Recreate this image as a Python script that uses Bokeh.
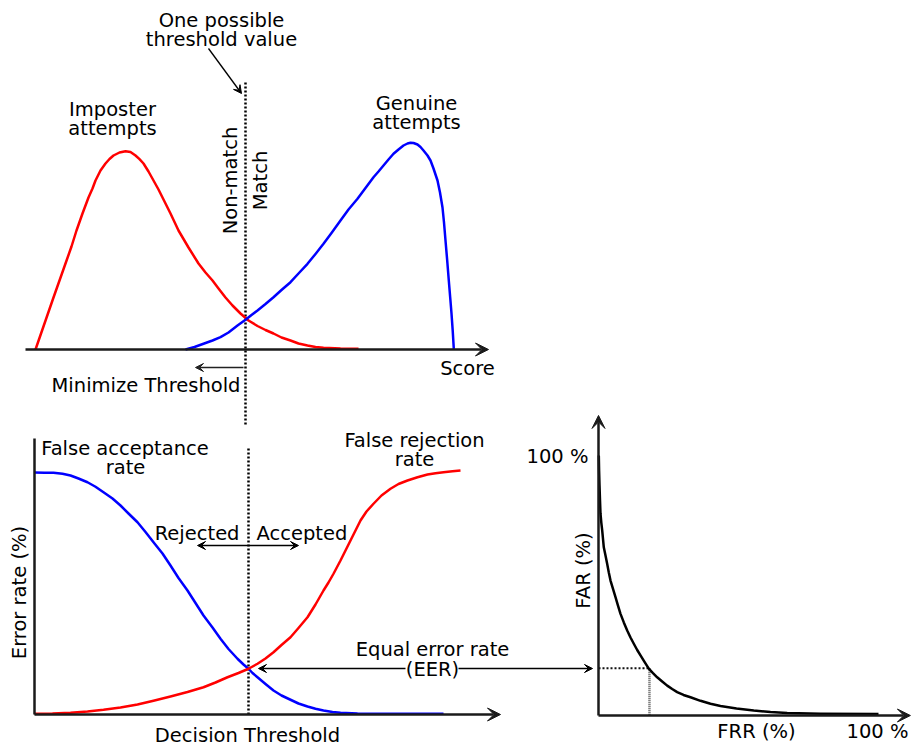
import math
from bokeh.plotting import figure
from bokeh.models import Range1d, Label, Arrow, VeeHead
from bokeh.embed import file_html
from bokeh.resources import INLINE

# ------------------------------------------------------------------ data
# Top panel: score distributions (score units, relative density)
imposter_score = [2.0, 3.8, 5.6, 6.8, 8.0, 9.2, 10.2, 11.4, 12.6, 13.4, 14.0, 15.0, 16.0, 16.8,
                  17.6, 18.8, 20.0, 21.0, 22.0, 22.8, 23.6, 24.6, 25.6, 26.6, 27.4, 29.0,
                  30.6, 32.6, 34.6, 36.0, 37.4, 38.6, 40.0, 41.4, 43.0, 44.6, 46.4, 48.0,
                  49.6, 51.2, 53.0, 54.6, 56.4, 58.0, 59.6, 63.0, 66.6]
imposter_density = [0.0, 13.0, 26.0, 34.5, 43.0, 51.5, 59.5, 68.0, 76.0, 80.5, 84.5, 89.5, 93.0,
                    95.25, 97.0, 98.5, 99.15, 98.75, 97.0, 95.2, 93.0, 89.0, 84.5, 80.0, 76.0,
                    68.0, 59.5, 51.0, 43.0, 38.5, 34.5, 30.5, 26.0, 22.0, 18.0, 14.5, 11.75,
                    9.75, 8.0, 6.0, 4.5, 3.0, 2.0, 1.25, 0.85, 0.5, 0.35]
genuine_score = [32.0, 33.8, 35.6, 37.4, 39.0, 40.6, 42.4, 44.0, 45.2, 46.4, 48.0, 49.6, 51.2,
                 53.0, 54.6, 56.4, 58.0, 59.6, 61.2, 63.0, 64.6, 66.4, 68.0, 69.6, 70.6, 71.6,
                 72.6, 73.6, 74.6, 75.6, 76.4, 77.0, 77.6, 78.4, 79.0, 79.6, 80.4, 81.0, 81.6,
                 82.4, 82.9, 83.4, 83.7, 84.0, 84.34, 84.66, 84.94, 85.2, 85.44, 85.66]
genuine_density = [0.0, 1.25, 2.85, 4.5, 6.15, 8.5, 12.0, 14.85, 17.25, 19.5, 22.75, 26.15,
                   29.75, 33.65, 38.0, 42.85, 47.75, 52.85, 58.25, 64.5, 70.0, 75.35, 80.75,
                   86.15, 89.0, 92.0, 95.0, 97.85, 100.0, 102.0, 103.0, 103.35, 103.25, 102.5,
                   101.25, 99.5, 97.0, 94.5, 90.5, 84.5, 78.5, 71.0, 63.5, 54.5, 44.5, 34.5,
                   26.0, 18.0, 9.5, 0.35]
threshold_score = 44.0

# Bottom-left panel: error rate (%) vs decision threshold
far_threshold = [0.0, 2.5, 4.75, 7.0, 9.0, 11.0, 13.25, 15.25, 17.25, 19.5, 21.5, 23.5, 25.75,
                 27.75, 29.75, 32.0, 34.0, 36.0, 38.25, 40.25, 42.25, 44.5, 46.5, 48.5, 50.75,
                 52.25, 53.5, 54.5, 55.75, 57.75, 59.75, 61.75, 64.0, 66.0, 68.25, 70.25,
                 72.25, 74.5, 76.5, 80.75, 84.75, 102.25]
far_rate = [96.8, 96.7, 96.7, 96.3, 95.6, 94.4, 92.9, 91.1, 88.9, 86.4, 83.6, 80.4, 76.9,
            73.0, 68.9, 64.4, 59.6, 54.6, 49.6, 44.6, 39.6, 34.8, 30.3, 26.2, 22.3,
            20.0, 18.3, 16.6, 14.9, 12.2, 9.6, 7.6, 5.9, 4.4, 3.2, 2.3,
            1.6, 1.0, 0.7, 0.4, 0.3, 0.3]
frr_threshold = [0.0, 4.5, 9.0, 13.25, 17.25, 21.5, 25.75, 29.75, 34.0, 38.25, 42.25, 45.25,
                 48.25, 51.0, 53.5, 55.75, 57.75, 59.75, 61.75, 64.0, 66.0, 68.25, 70.25,
                 72.25, 73.5, 74.75, 76.5, 77.75, 79.0, 80.25, 81.5, 83.0, 84.75, 86.75,
                 89.0, 91.0, 93.25, 95.75, 98.25, 100.25, 102.25, 104.5, 106.5]
frr_rate = [0.3, 0.4, 0.7, 1.2, 1.9, 2.8, 4.0, 5.5, 7.2, 9.0, 10.9, 12.8,
            14.9, 16.6, 18.3, 20.3, 22.4, 24.9, 27.8, 30.9, 34.6, 38.9, 44.0,
            49.6, 52.8, 56.3, 61.6, 65.6, 69.6, 73.6, 77.6, 81.2, 84.3, 87.6,
            90.3, 92.2, 93.6, 94.9, 96.0, 96.5, 96.9, 97.3, 97.6]
eer_threshold = 53.5
eer_rate = 18.2

# Right panel: FAR (%) vs FRR (%)
roc_frr = [0.11, 0.21, 0.36, 0.54, 0.71, 1.0, 1.32, 1.89, 2.5, 3.11, 3.68, 4.29, 5.18, 6.07,
           6.96, 7.86, 9.04, 10.25, 11.43, 12.61, 13.82, 15.0, 16.43, 17.96, 19.46, 20.96,
           22.75, 24.54, 26.32, 28.1, 30.36, 32.86, 36.43, 40.0, 43.57, 49.29, 55.46,
           61.43, 67.39, 79.29, 100.0]
roc_far = [100.0, 94.2, 88.5, 82.7, 77.7, 74.2, 71.2, 64.7, 61.5, 58.3, 55.0, 51.9, 48.7, 45.5,
           42.3, 39.1, 35.8, 32.7, 30.0, 27.6, 25.2, 23.1, 20.6, 18.0, 16.3, 14.7,
           13.1, 11.5, 10.2, 9.0, 7.9, 7.0, 5.65, 4.5, 3.65, 2.7, 1.9,
           1.35, 0.96, 0.65, 0.55]

# ------------------------------------------------------------------ canvas
W, H = 911, 746
PX0, PY0 = 0, 0          # page offset of the canvas
p = figure(width=W, height=H,
           x_range=Range1d(PX0, PX0 + W), y_range=Range1d(PY0 + H, PY0),
           output_backend="svg", toolbar_location=None,
           x_axis_location=None, y_axis_location=None,
           min_border=0, outline_line_color=None,
           background_fill_color="white", border_fill_color="white")
p.grid.visible = False


def add_panel(name, ox, oy, sx, sy):
    """Panel data ranges: data (0,0) sits at page (ox, oy), sx/sy px per unit."""
    p.extra_x_ranges[name + "_x"] = Range1d((PX0 - ox) / sx, (PX0 + W - ox) / sx)
    p.extra_y_ranges[name + "_y"] = Range1d((oy - (PY0 + H)) / sy, (oy - PY0) / sy)
    return dict(x_range_name=name + "_x", y_range_name=name + "_y")


top = add_panel("top", 25, 349, 5.0, 2.0)
bl = add_panel("bl", 34, 714, 4.0, 2.5)
rt = add_panel("rt", 598, 715, 2.8, 2.6)

AX = "#1a1a1a"
RED = "#ff0000"
BLUE = "#0000ff"


def axis_arrow(rng, x0, y0, x1, y1, head=True):
    p.add_layout(Arrow(x_start=x0, y_start=y0, x_end=x1, y_end=y1,
                       end=VeeHead(size=13, fill_color=AX, line_color=AX, line_width=1) if head else None,
                       line_color=AX, line_width=2.5, **rng))


def small_arrow(x0, y0, x1, y1, both=False, color="black"):
    head = lambda: VeeHead(size=8, fill_color=color, line_color=color, line_width=1)
    p.add_layout(Arrow(x_start=x0, y_start=y0, x_end=x1, y_end=y1,
                       start=head() if both else None, end=head(),
                       line_color=color, line_width=1.3))


# ---- top panel
p.line([threshold_score, threshold_score], [133.5, -38], line_color="black",
       line_width=2.5, line_dash="2 2", **top)
p.line(imposter_score, imposter_density, line_color=RED, line_width=2.5, line_join="round", **top)
p.line(genuine_score, genuine_density, line_color=BLUE, line_width=2.5, line_join="round", **top)
axis_arrow(top, 0, 0, 92.6, 0)

# ---- bottom-left panel
p.line([eer_threshold, eer_threshold], [106.4, 0], line_color="black",
       line_width=2.5, line_dash="2 2", **bl)
p.line(far_threshold, far_rate, line_color=BLUE, line_width=2.5, line_join="round", **bl)
p.line(frr_threshold, frr_rate, line_color=RED, line_width=2.5, line_join="round", **bl)
axis_arrow(bl, 0, 0, 116.5, 0)
axis_arrow(bl, 0, 0, 0, 110.4, head=False)

# ---- right panel
p.line([0, eer_rate], [eer_rate, eer_rate], line_color="#111111", line_width=2, line_dash="2 2", **rt)
p.line([eer_rate, eer_rate], [eer_rate, 0], line_color="#555555", line_width=2.5, line_dash="1 1", **rt)
p.line(roc_frr, roc_far, line_color="black", line_width=2.5, line_join="round", **rt)
axis_arrow(rt, 0, 0, 111.4, 0)
axis_arrow(rt, 0, 0, 0, 115.4)

# ---- annotation arrows (page coordinates)
small_arrow(208, 48, 241, 93)                 # threshold pointer
small_arrow(243, 367, 195, 367, color="#222222")  # minimize threshold
small_arrow(197, 545, 298, 545, both=True)    # rejected / accepted
small_arrow(405, 668, 258, 668)               # EER -> left panel
small_arrow(458, 668, 592, 668)               # EER -> right panel

# ---- texts (page coordinates of the text baseline)
V = math.pi / 2
SHIFT = 7.5   # renderer draws the label ~7.5px past the requested baseline
texts = [
    ("One possible", 221, 27, "center", 0),
    ("threshold value", 221, 46, "center", 0),
    ("Imposter", 112, 116, "center", 0),
    ("attempts", 112, 135, "center", 0),
    ("Genuine", 416, 110.5, "center", 0),
    ("attempts", 416, 129.5, "center", 0),
    ("Non-match", 237, 180, "center", V),
    ("Match", 267, 180, "center", V),
    ("Score", 467, 375, "center", 0),
    ("Minimize Threshold", 240, 392, "right", 0),
    ("False acceptance", 124.5, 455, "center", 0),
    ("rate", 125, 474, "center", 0),
    ("False rejection", 414, 447, "center", 0),
    ("rate", 414, 466, "center", 0),
    ("Rejected", 239, 540, "right", 0),
    ("Accepted", 256, 540, "left", 0),
    ("Error rate (%)", 26, 592, "center", V),
    ("Equal error rate", 432, 656, "center", 0),
    ("(EER)", 432, 676.5, "center", 0),
    ("Decision Threshold", 247, 742, "center", 0),
    ("100 %", 588, 463, "right", 0),
    ("FAR (%)", 590, 570, "center", V),
    ("FRR (%)", 756, 738, "center", 0),
    ("100 %", 908, 738, "right", 0),
]
for t, x, y, align, ang in texts:
    if ang:
        x -= SHIFT
    else:
        y -= SHIFT
    p.add_layout(Label(x=x, y=y, text=t, text_align=align, text_baseline="alphabetic",
                       angle=ang, text_font="DejaVu Sans", text_font_size="19.5px",
                       text_color="black"))

open("out.html", "w").write(file_html(p, INLINE))
